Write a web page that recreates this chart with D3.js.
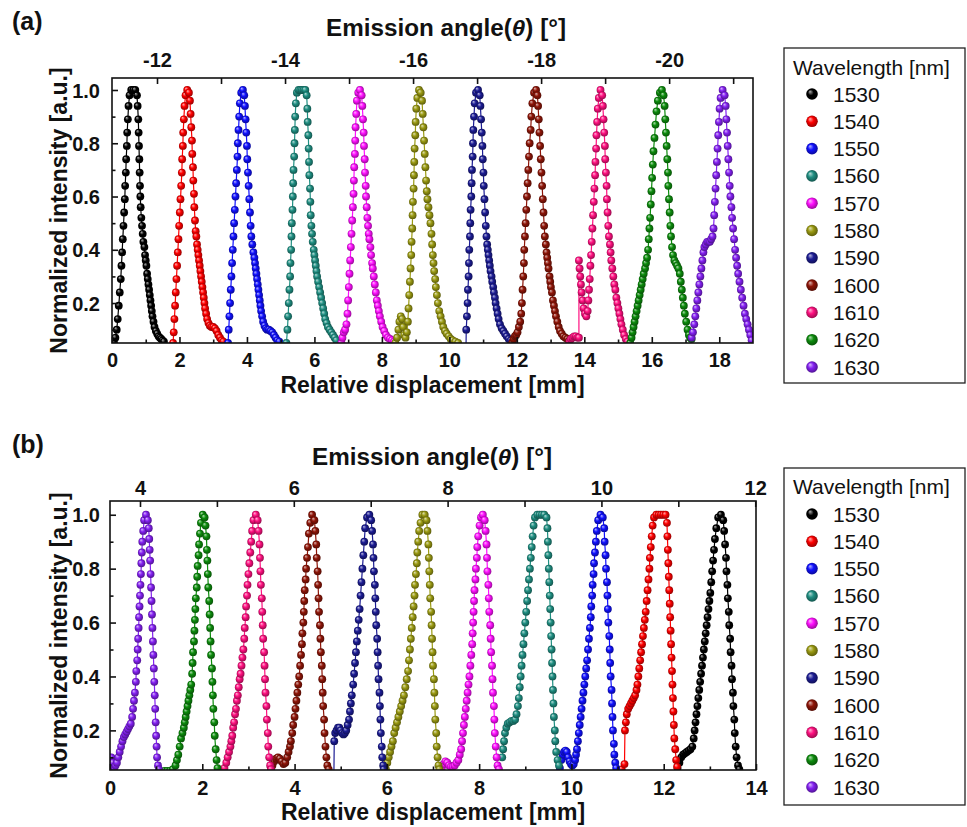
<!DOCTYPE html>
<html><head><meta charset="utf-8">
<script src="https://cdn.jsdelivr.net/npm/d3@7"></script>
<style>body{margin:0;background:#fff}svg{display:block}text{font-family:"Liberation Sans",Arial,sans-serif}</style>
</head><body>
<svg id="c" width="967" height="827"></svg>
<script>
// ---------- data ----------
const wavelengths = [1530,1540,1550,1560,1570,1580,1590,1600,1610,1620,1630];
const colors = ["#000000","#ff0000","#1010ff","#1f8f82","#ff10ff","#9a9a12","#1c1c94","#8e1508","#ff1080","#0c8c0c","#8420f2"];

const xMajorA = [0,2,4,6,8,10,12,14,16,18];
const xMinorA = [1,3,5,7,9,11,13,15,17];
const angTicksA = [-12,-13,-14,-15,-16,-17,-18,-19,-20,-21];
const angLabelsA = [-12,-14,-16,-18,-20];
const xMajorB = [0,2,4,6,8,10,12,14];
const xMinorB = [1,3,5,7,9,11,13];
const angTicksB = [4,5,6,7,8,9,10,11,12];
const angLabelsB = [4,6,8,10,12];
const yMajor = [0.2,0.4,0.6,0.8,1.0];
const yMinor = [0.1,0.3,0.5,0.7,0.9];

// panel (a): [relative displacement mm, normalized intensity]
const a1530 = [[0.06,0.05],[0.1,0.07],[0.14,0.1],[0.17,0.14],[0.2,0.19],[0.23,0.24],[0.26,0.29],[0.28,0.34],[0.3,0.39],[0.32,0.44],[0.34,0.49],[0.36,0.54],[0.38,0.59],[0.39,0.64],[0.41,0.69],[0.42,0.74],[0.44,0.79],[0.45,0.84],[0.47,0.89],[0.49,0.94],[0.52,0.98],[0.57,1.0],[0.63,1.0],[0.69,1.0],[0.74,0.98],[0.76,0.94],[0.78,0.89],[0.79,0.84],[0.8,0.79],[0.81,0.74],[0.82,0.69],[0.83,0.64],[0.84,0.6],[0.85,0.56],[0.87,0.52],[0.89,0.49],[0.91,0.46],[0.93,0.43],[0.96,0.41],[0.98,0.38],[1.0,0.36],[1.02,0.34],[1.04,0.31],[1.06,0.29],[1.08,0.27],[1.1,0.25],[1.12,0.23],[1.14,0.21],[1.16,0.19],[1.18,0.17],[1.2,0.15],[1.23,0.13],[1.26,0.11],[1.3,0.095],[1.34,0.085],[1.38,0.075],[1.42,0.07],[1.46,0.065],[1.5,0.06],[1.54,0.055]];
const a1540 = [[1.81,0.05],[1.83,0.09],[1.85,0.14],[1.87,0.19],[1.89,0.24],[1.91,0.29],[1.93,0.34],[1.95,0.39],[1.97,0.44],[1.99,0.49],[2.01,0.54],[2.03,0.59],[2.05,0.64],[2.07,0.69],[2.08,0.74],[2.1,0.79],[2.11,0.84],[2.13,0.89],[2.15,0.94],[2.18,0.98],[2.23,1.0],[2.28,0.99],[2.31,0.96],[2.33,0.91],[2.35,0.86],[2.37,0.81],[2.38,0.76],[2.4,0.71],[2.41,0.66],[2.43,0.61],[2.44,0.56],[2.46,0.51],[2.48,0.47],[2.5,0.45],[2.52,0.42],[2.54,0.4],[2.56,0.38],[2.58,0.36],[2.6,0.34],[2.62,0.32],[2.64,0.3],[2.66,0.28],[2.68,0.26],[2.7,0.24],[2.72,0.22],[2.74,0.2],[2.76,0.18],[2.79,0.16],[2.82,0.14],[2.86,0.125],[2.9,0.115],[2.95,0.11],[3.0,0.11],[3.05,0.105],[3.1,0.095],[3.15,0.08],[3.2,0.07],[3.25,0.06],[3.3,0.055]];
const a1550 = [[3.44,0.05],[3.46,0.1],[3.48,0.15],[3.5,0.2],[3.52,0.25],[3.54,0.3],[3.56,0.35],[3.58,0.4],[3.6,0.45],[3.62,0.5],[3.64,0.55],[3.66,0.6],[3.68,0.65],[3.7,0.7],[3.72,0.75],[3.73,0.8],[3.75,0.85],[3.77,0.9],[3.79,0.95],[3.83,0.99],[3.88,1.0],[3.92,0.98],[3.94,0.94],[3.96,0.89],[3.98,0.84],[4.0,0.79],[4.01,0.74],[4.03,0.69],[4.05,0.64],[4.07,0.59],[4.09,0.54],[4.11,0.49],[4.13,0.45],[4.16,0.42],[4.19,0.39],[4.22,0.37],[4.24,0.35],[4.26,0.33],[4.28,0.31],[4.3,0.29],[4.32,0.27],[4.34,0.25],[4.36,0.23],[4.38,0.21],[4.4,0.19],[4.42,0.17],[4.45,0.15],[4.48,0.13],[4.52,0.115],[4.56,0.105],[4.6,0.1],[4.65,0.1],[4.7,0.095],[4.75,0.09],[4.8,0.08],[4.85,0.07],[4.9,0.06],[4.96,0.055]];
const a1560 = [[5.17,0.05],[5.2,0.1],[5.22,0.15],[5.24,0.2],[5.26,0.25],[5.28,0.3],[5.29,0.35],[5.31,0.4],[5.32,0.45],[5.33,0.5],[5.35,0.55],[5.36,0.6],[5.37,0.65],[5.38,0.7],[5.4,0.75],[5.41,0.8],[5.42,0.85],[5.43,0.9],[5.45,0.95],[5.48,0.99],[5.53,1.0],[5.58,1.0],[5.63,1.0],[5.68,1.0],[5.73,1.0],[5.77,0.98],[5.79,0.93],[5.8,0.88],[5.82,0.83],[5.83,0.78],[5.84,0.73],[5.85,0.68],[5.87,0.63],[5.88,0.58],[5.89,0.53],[5.91,0.49],[5.93,0.46],[5.95,0.43],[5.98,0.4],[6.0,0.38],[6.02,0.36],[6.04,0.34],[6.06,0.32],[6.08,0.3],[6.11,0.28],[6.14,0.26],[6.17,0.24],[6.2,0.22],[6.23,0.2],[6.26,0.18],[6.29,0.16],[6.32,0.14],[6.36,0.125],[6.4,0.11],[6.45,0.1],[6.5,0.09],[6.55,0.08],[6.6,0.07],[6.65,0.06]];
const a1570 = [[6.8,0.05],[6.83,0.07],[6.87,0.09],[6.91,0.1],[6.95,0.12],[6.98,0.16],[7.0,0.21],[7.02,0.26],[7.04,0.31],[7.06,0.36],[7.08,0.41],[7.1,0.46],[7.12,0.51],[7.14,0.56],[7.16,0.61],[7.17,0.66],[7.18,0.71],[7.2,0.76],[7.21,0.81],[7.22,0.86],[7.24,0.91],[7.26,0.96],[7.3,0.99],[7.35,1.0],[7.4,0.98],[7.42,0.94],[7.44,0.89],[7.46,0.84],[7.47,0.79],[7.49,0.74],[7.5,0.69],[7.52,0.64],[7.53,0.6],[7.55,0.56],[7.57,0.52],[7.59,0.49],[7.61,0.46],[7.63,0.44],[7.66,0.41],[7.68,0.38],[7.71,0.35],[7.73,0.33],[7.76,0.3],[7.79,0.27],[7.82,0.24],[7.85,0.21],[7.88,0.19],[7.91,0.17],[7.94,0.15],[7.98,0.13],[8.02,0.11],[8.07,0.095],[8.12,0.08],[8.18,0.07],[8.24,0.065],[8.3,0.06],[8.36,0.055]];
const a1580 = [[8.4,0.05],[8.45,0.07],[8.49,0.1],[8.52,0.13],[8.56,0.15],[8.6,0.14],[8.63,0.11],[8.66,0.08],[8.7,0.07],[8.74,0.09],[8.77,0.13],[8.79,0.18],[8.81,0.23],[8.83,0.28],[8.85,0.33],[8.87,0.38],[8.88,0.43],[8.9,0.48],[8.91,0.53],[8.92,0.58],[8.94,0.63],[8.95,0.68],[8.96,0.73],[8.97,0.78],[8.99,0.83],[9.0,0.88],[9.02,0.93],[9.05,0.97],[9.1,1.0],[9.15,0.99],[9.19,0.96],[9.21,0.91],[9.23,0.86],[9.25,0.81],[9.27,0.76],[9.29,0.71],[9.31,0.66],[9.33,0.62],[9.35,0.59],[9.38,0.56],[9.41,0.53],[9.44,0.5],[9.47,0.46],[9.49,0.42],[9.51,0.38],[9.53,0.35],[9.55,0.32],[9.58,0.29],[9.6,0.26],[9.63,0.23],[9.66,0.2],[9.7,0.17],[9.74,0.15],[9.78,0.13],[9.82,0.11],[9.87,0.095],[9.92,0.085],[9.98,0.075],[10.04,0.065],[10.1,0.06],[10.18,0.055],[10.26,0.05]];
const a1590 = [[10.49,0.0],[10.5,0.1],[10.52,0.15],[10.54,0.2],[10.55,0.25],[10.57,0.3],[10.58,0.35],[10.59,0.4],[10.61,0.45],[10.62,0.5],[10.63,0.55],[10.65,0.6],[10.66,0.65],[10.67,0.7],[10.69,0.75],[10.7,0.8],[10.71,0.85],[10.73,0.9],[10.75,0.95],[10.79,0.99],[10.85,1.0],[10.9,0.98],[10.92,0.94],[10.94,0.89],[10.96,0.84],[10.98,0.79],[10.99,0.74],[11.01,0.69],[11.02,0.64],[11.04,0.59],[11.06,0.54],[11.08,0.49],[11.1,0.45],[11.12,0.42],[11.14,0.4],[11.16,0.38],[11.18,0.36],[11.2,0.34],[11.22,0.32],[11.25,0.3],[11.27,0.28],[11.3,0.26],[11.32,0.24],[11.35,0.22],[11.37,0.2],[11.4,0.18],[11.43,0.16],[11.46,0.14],[11.5,0.12],[11.55,0.105],[11.6,0.095],[11.65,0.085],[11.7,0.075],[11.76,0.065],[11.82,0.06],[11.88,0.055]];
const a1600 = [[11.86,0.05],[11.9,0.065],[11.94,0.075],[11.98,0.08],[12.02,0.09],[12.06,0.11],[12.1,0.13],[12.13,0.16],[12.15,0.2],[12.17,0.25],[12.19,0.3],[12.21,0.35],[12.22,0.4],[12.24,0.45],[12.26,0.5],[12.28,0.55],[12.3,0.6],[12.32,0.65],[12.34,0.7],[12.36,0.75],[12.38,0.8],[12.41,0.85],[12.43,0.9],[12.46,0.95],[12.51,0.99],[12.57,1.0],[12.61,0.98],[12.63,0.94],[12.65,0.89],[12.67,0.84],[12.69,0.79],[12.71,0.74],[12.73,0.69],[12.75,0.64],[12.77,0.59],[12.79,0.54],[12.81,0.49],[12.83,0.45],[12.86,0.42],[12.88,0.39],[12.9,0.37],[12.92,0.35],[12.94,0.33],[12.97,0.3],[12.99,0.28],[13.01,0.26],[13.04,0.24],[13.07,0.21],[13.1,0.19],[13.13,0.17],[13.16,0.15],[13.2,0.13],[13.24,0.11],[13.28,0.095],[13.33,0.085],[13.38,0.075],[13.44,0.07],[13.5,0.065],[13.56,0.06]];
const a1610 = [[13.56,0.055],[13.6,0.065],[13.65,0.07],[13.7,0.075],[13.75,0.075],[13.8,0.07],[13.84,0.07],[13.84,0.36],[13.86,0.33],[13.88,0.3],[13.9,0.27],[13.92,0.24],[13.95,0.21],[13.98,0.18],[14.02,0.16],[14.06,0.15],[14.1,0.17],[14.12,0.21],[14.14,0.25],[14.16,0.29],[14.18,0.34],[14.2,0.38],[14.22,0.43],[14.24,0.48],[14.26,0.53],[14.28,0.58],[14.3,0.63],[14.32,0.68],[14.33,0.73],[14.35,0.78],[14.36,0.83],[14.38,0.88],[14.4,0.93],[14.43,0.97],[14.48,1.0],[14.53,0.98],[14.55,0.94],[14.57,0.89],[14.59,0.84],[14.61,0.79],[14.62,0.74],[14.64,0.69],[14.66,0.64],[14.67,0.59],[14.69,0.54],[14.71,0.49],[14.73,0.45],[14.76,0.42],[14.78,0.39],[14.8,0.36],[14.83,0.33],[14.86,0.3],[14.89,0.27],[14.92,0.25],[14.95,0.22],[14.98,0.2],[15.01,0.18],[15.04,0.16],[15.07,0.14],[15.1,0.12],[15.14,0.1],[15.18,0.08],[15.23,0.065],[15.28,0.055]];
const a1620 = [[15.36,0.05],[15.4,0.07],[15.43,0.09],[15.46,0.11],[15.49,0.13],[15.52,0.15],[15.55,0.17],[15.58,0.19],[15.61,0.21],[15.64,0.23],[15.67,0.25],[15.7,0.27],[15.73,0.29],[15.76,0.31],[15.8,0.33],[15.83,0.35],[15.86,0.37],[15.89,0.4],[15.91,0.44],[15.93,0.48],[15.95,0.52],[15.97,0.57],[15.99,0.62],[16.01,0.67],[16.03,0.72],[16.05,0.77],[16.08,0.82],[16.11,0.87],[16.14,0.92],[16.18,0.96],[16.24,0.99],[16.3,1.0],[16.35,0.98],[16.38,0.94],[16.4,0.89],[16.42,0.84],[16.44,0.79],[16.46,0.74],[16.48,0.69],[16.49,0.64],[16.51,0.59],[16.53,0.54],[16.55,0.49],[16.57,0.45],[16.6,0.41],[16.63,0.38],[16.67,0.36],[16.71,0.35],[16.75,0.34],[16.79,0.33],[16.83,0.31],[16.86,0.28],[16.89,0.25],[16.92,0.22],[16.95,0.19],[16.98,0.16],[17.02,0.13],[17.06,0.1],[17.1,0.08],[17.14,0.07],[17.18,0.065]];
const a1630 = [[17.18,0.07],[17.22,0.09],[17.26,0.12],[17.29,0.15],[17.32,0.18],[17.35,0.21],[17.38,0.24],[17.41,0.27],[17.44,0.3],[17.47,0.33],[17.5,0.36],[17.53,0.39],[17.56,0.41],[17.6,0.42],[17.64,0.43],[17.68,0.43],[17.72,0.43],[17.76,0.44],[17.8,0.45],[17.83,0.48],[17.85,0.53],[17.87,0.58],[17.89,0.63],[17.91,0.68],[17.93,0.73],[17.95,0.78],[17.97,0.83],[17.99,0.88],[18.01,0.93],[18.04,0.97],[18.1,1.0],[18.16,0.98],[18.19,0.94],[18.21,0.89],[18.23,0.84],[18.25,0.79],[18.27,0.74],[18.29,0.69],[18.31,0.64],[18.33,0.6],[18.36,0.56],[18.38,0.52],[18.41,0.48],[18.44,0.44],[18.47,0.4],[18.5,0.37],[18.53,0.34],[18.56,0.31],[18.6,0.28],[18.64,0.25],[18.68,0.22],[18.72,0.19],[18.76,0.16],[18.8,0.14],[18.84,0.12],[18.88,0.1],[18.92,0.08],[18.96,0.06]];

// panel (b)
const b1530 = [[12.3,0.06],[12.34,0.08],[12.38,0.1],[12.42,0.11],[12.46,0.115],[12.5,0.12],[12.54,0.125],[12.58,0.13],[12.62,0.14],[12.65,0.17],[12.67,0.2],[12.69,0.23],[12.71,0.26],[12.73,0.29],[12.75,0.32],[12.77,0.35],[12.79,0.38],[12.81,0.41],[12.83,0.44],[12.85,0.47],[12.87,0.5],[12.89,0.53],[12.91,0.56],[12.93,0.59],[12.95,0.62],[12.97,0.65],[12.99,0.68],[13.01,0.71],[13.03,0.75],[13.05,0.79],[13.07,0.83],[13.09,0.87],[13.11,0.91],[13.14,0.95],[13.18,0.99],[13.24,1.0],[13.29,0.98],[13.31,0.94],[13.33,0.89],[13.35,0.84],[13.36,0.79],[13.38,0.74],[13.39,0.69],[13.41,0.64],[13.42,0.59],[13.44,0.54],[13.45,0.49],[13.47,0.44],[13.48,0.39],[13.5,0.34],[13.51,0.29],[13.53,0.24],[13.54,0.19],[13.56,0.14],[13.58,0.1],[13.61,0.07],[13.64,0.055]];
const b1540 = [[11.09,0.055],[11.15,0.075],[11.16,0.2],[11.18,0.23],[11.2,0.26],[11.23,0.28],[11.26,0.29],[11.29,0.3],[11.32,0.31],[11.35,0.32],[11.38,0.33],[11.41,0.35],[11.43,0.37],[11.45,0.4],[11.47,0.43],[11.49,0.46],[11.51,0.49],[11.53,0.52],[11.55,0.55],[11.57,0.58],[11.59,0.61],[11.61,0.64],[11.63,0.68],[11.65,0.72],[11.67,0.76],[11.69,0.8],[11.7,0.84],[11.72,0.88],[11.74,0.92],[11.76,0.96],[11.79,0.99],[11.84,1.0],[11.89,1.0],[11.94,1.0],[11.99,1.0],[12.04,1.0],[12.07,0.97],[12.08,0.92],[12.09,0.87],[12.1,0.82],[12.11,0.77],[12.12,0.72],[12.13,0.67],[12.14,0.62],[12.15,0.57],[12.16,0.52],[12.17,0.47],[12.18,0.42],[12.19,0.37],[12.2,0.32],[12.21,0.27],[12.22,0.22],[12.23,0.17],[12.25,0.13],[12.27,0.09],[12.29,0.065]];
const b1550 = [[9.75,0.06],[9.78,0.09],[9.81,0.11],[9.84,0.12],[9.87,0.125],[9.9,0.12],[9.93,0.1],[9.96,0.085],[9.99,0.075],[10.02,0.07],[10.05,0.075],[10.08,0.09],[10.1,0.11],[10.12,0.13],[10.14,0.16],[10.16,0.19],[10.18,0.22],[10.2,0.25],[10.22,0.28],[10.24,0.31],[10.26,0.34],[10.28,0.37],[10.3,0.4],[10.32,0.43],[10.34,0.46],[10.36,0.5],[10.38,0.54],[10.4,0.58],[10.42,0.62],[10.43,0.66],[10.45,0.7],[10.46,0.74],[10.48,0.78],[10.49,0.82],[10.51,0.86],[10.53,0.9],[10.55,0.94],[10.58,0.98],[10.63,1.0],[10.68,0.99],[10.71,0.95],[10.72,0.9],[10.74,0.85],[10.75,0.8],[10.77,0.75],[10.78,0.7],[10.79,0.65],[10.8,0.6],[10.82,0.55],[10.83,0.5],[10.84,0.45],[10.85,0.4],[10.87,0.35],[10.88,0.3],[10.89,0.25],[10.9,0.2],[10.92,0.15],[10.93,0.11],[10.95,0.08],[10.97,0.06]];
const b1560 = [[8.5,0.1],[8.52,0.13],[8.54,0.16],[8.56,0.19],[8.59,0.21],[8.62,0.225],[8.66,0.23],[8.7,0.235],[8.74,0.235],[8.78,0.24],[8.81,0.26],[8.84,0.29],[8.86,0.32],[8.88,0.36],[8.9,0.4],[8.92,0.44],[8.94,0.48],[8.96,0.52],[8.98,0.56],[9.0,0.6],[9.02,0.64],[9.04,0.68],[9.06,0.72],[9.08,0.76],[9.1,0.8],[9.12,0.84],[9.14,0.88],[9.16,0.92],[9.18,0.96],[9.21,0.99],[9.26,1.0],[9.31,1.0],[9.36,1.0],[9.41,1.0],[9.46,0.99],[9.48,0.95],[9.49,0.9],[9.5,0.85],[9.51,0.8],[9.52,0.75],[9.53,0.7],[9.54,0.65],[9.55,0.6],[9.56,0.55],[9.57,0.5],[9.58,0.45],[9.59,0.4],[9.6,0.35],[9.61,0.3],[9.62,0.25],[9.64,0.2],[9.65,0.16],[9.67,0.12],[9.7,0.09],[9.73,0.07]];
const b1570 = [[7.19,0.06],[7.23,0.075],[7.27,0.085],[7.31,0.08],[7.35,0.07],[7.39,0.065],[7.43,0.065],[7.47,0.07],[7.51,0.08],[7.55,0.09],[7.58,0.11],[7.61,0.13],[7.63,0.16],[7.65,0.19],[7.67,0.22],[7.69,0.25],[7.71,0.28],[7.73,0.31],[7.75,0.34],[7.77,0.37],[7.79,0.4],[7.81,0.44],[7.83,0.48],[7.85,0.52],[7.86,0.56],[7.87,0.6],[7.88,0.64],[7.89,0.68],[7.9,0.72],[7.92,0.76],[7.93,0.8],[7.95,0.84],[7.96,0.88],[7.98,0.92],[8.01,0.96],[8.04,0.99],[8.08,1.0],[8.12,0.98],[8.14,0.94],[8.16,0.89],[8.17,0.84],[8.18,0.79],[8.2,0.74],[8.21,0.69],[8.22,0.64],[8.24,0.59],[8.25,0.54],[8.26,0.49],[8.28,0.44],[8.29,0.39],[8.3,0.34],[8.32,0.29],[8.33,0.24],[8.34,0.19],[8.36,0.14],[8.38,0.1],[8.4,0.07],[8.43,0.055]];
const b1580 = [[5.98,0.055],[6.01,0.08],[6.04,0.1],[6.07,0.12],[6.1,0.14],[6.13,0.16],[6.16,0.19],[6.19,0.21],[6.22,0.23],[6.25,0.25],[6.28,0.27],[6.31,0.29],[6.34,0.31],[6.37,0.33],[6.4,0.36],[6.43,0.39],[6.46,0.42],[6.48,0.46],[6.5,0.5],[6.52,0.54],[6.54,0.58],[6.56,0.62],[6.58,0.66],[6.6,0.7],[6.61,0.74],[6.63,0.78],[6.65,0.82],[6.66,0.86],[6.68,0.9],[6.7,0.94],[6.73,0.97],[6.77,1.0],[6.82,1.0],[6.86,0.98],[6.88,0.94],[6.9,0.89],[6.91,0.84],[6.92,0.79],[6.93,0.74],[6.94,0.69],[6.96,0.64],[6.97,0.59],[6.98,0.54],[6.99,0.49],[7.0,0.44],[7.02,0.39],[7.03,0.34],[7.04,0.29],[7.05,0.24],[7.07,0.19],[7.08,0.14],[7.1,0.1],[7.12,0.07],[7.14,0.055]];
const b1590 = [[4.85,0.0],[4.86,0.16],[4.88,0.19],[4.91,0.2],[4.94,0.21],[4.97,0.21],[5.0,0.2],[5.03,0.19],[5.06,0.185],[5.09,0.19],[5.12,0.2],[5.15,0.22],[5.18,0.24],[5.2,0.27],[5.22,0.3],[5.24,0.33],[5.27,0.37],[5.29,0.41],[5.31,0.45],[5.33,0.49],[5.35,0.53],[5.37,0.57],[5.39,0.61],[5.41,0.65],[5.43,0.7],[5.45,0.75],[5.47,0.8],[5.49,0.85],[5.51,0.9],[5.53,0.95],[5.57,0.99],[5.62,1.0],[5.66,0.98],[5.68,0.94],[5.7,0.89],[5.71,0.84],[5.72,0.79],[5.74,0.74],[5.75,0.69],[5.76,0.64],[5.77,0.59],[5.79,0.54],[5.8,0.49],[5.81,0.44],[5.82,0.39],[5.84,0.34],[5.85,0.29],[5.86,0.24],[5.87,0.19],[5.89,0.14],[5.9,0.1],[5.92,0.07],[5.93,0.055]];
const b1600 = [[3.49,0.055],[3.52,0.07],[3.56,0.085],[3.6,0.095],[3.64,0.1],[3.68,0.095],[3.72,0.085],[3.76,0.075],[3.8,0.08],[3.84,0.1],[3.87,0.12],[3.9,0.14],[3.92,0.16],[3.95,0.19],[3.97,0.22],[4.0,0.25],[4.02,0.28],[4.04,0.31],[4.06,0.34],[4.08,0.37],[4.1,0.4],[4.12,0.44],[4.14,0.48],[4.16,0.52],[4.17,0.56],[4.19,0.6],[4.2,0.64],[4.21,0.68],[4.22,0.72],[4.24,0.76],[4.25,0.8],[4.27,0.84],[4.29,0.88],[4.31,0.93],[4.34,0.97],[4.38,1.0],[4.43,0.98],[4.45,0.94],[4.47,0.89],[4.48,0.84],[4.5,0.79],[4.51,0.74],[4.52,0.69],[4.53,0.64],[4.55,0.59],[4.56,0.54],[4.57,0.49],[4.59,0.44],[4.6,0.39],[4.61,0.34],[4.62,0.29],[4.64,0.24],[4.65,0.19],[4.67,0.14],[4.69,0.1],[4.71,0.07],[4.74,0.055]];
const b1610 = [[2.44,0.05],[2.48,0.06],[2.52,0.08],[2.55,0.1],[2.58,0.12],[2.61,0.14],[2.63,0.16],[2.65,0.18],[2.67,0.21],[2.69,0.23],[2.71,0.26],[2.73,0.28],[2.75,0.31],[2.77,0.33],[2.79,0.36],[2.81,0.39],[2.83,0.41],[2.85,0.44],[2.87,0.47],[2.89,0.5],[2.91,0.54],[2.92,0.58],[2.94,0.62],[2.95,0.66],[2.97,0.7],[2.98,0.74],[3.0,0.78],[3.02,0.82],[3.04,0.86],[3.06,0.9],[3.08,0.94],[3.11,0.98],[3.16,1.0],[3.2,0.98],[3.22,0.94],[3.24,0.89],[3.25,0.84],[3.26,0.79],[3.27,0.74],[3.29,0.69],[3.3,0.64],[3.31,0.59],[3.32,0.54],[3.34,0.49],[3.35,0.44],[3.36,0.39],[3.37,0.34],[3.39,0.29],[3.4,0.24],[3.42,0.19],[3.43,0.14],[3.45,0.1],[3.47,0.07],[3.49,0.055]];
const b1620 = [[1.18,0.05],[1.24,0.05],[1.3,0.05],[1.36,0.055],[1.42,0.07],[1.45,0.09],[1.48,0.11],[1.51,0.14],[1.54,0.17],[1.57,0.19],[1.6,0.21],[1.62,0.23],[1.64,0.25],[1.66,0.27],[1.68,0.29],[1.7,0.31],[1.72,0.33],[1.74,0.35],[1.76,0.37],[1.78,0.41],[1.79,0.45],[1.8,0.49],[1.82,0.53],[1.83,0.57],[1.84,0.61],[1.85,0.65],[1.86,0.69],[1.88,0.73],[1.89,0.77],[1.9,0.81],[1.92,0.85],[1.93,0.89],[1.95,0.93],[1.97,0.97],[2.01,1.0],[2.05,0.99],[2.07,0.96],[2.09,0.92],[2.1,0.87],[2.11,0.83],[2.12,0.78],[2.13,0.73],[2.15,0.68],[2.16,0.63],[2.17,0.58],[2.18,0.53],[2.19,0.48],[2.21,0.43],[2.22,0.38],[2.23,0.33],[2.24,0.28],[2.26,0.23],[2.27,0.18],[2.29,0.13],[2.31,0.09],[2.33,0.06]];
const b1630 = [[0.0,0.08],[0.03,0.1],[0.06,0.08],[0.09,0.06],[0.12,0.07],[0.15,0.08],[0.18,0.1],[0.21,0.12],[0.24,0.14],[0.27,0.16],[0.3,0.175],[0.33,0.185],[0.36,0.195],[0.39,0.205],[0.42,0.215],[0.45,0.225],[0.48,0.25],[0.5,0.28],[0.52,0.31],[0.54,0.34],[0.56,0.38],[0.57,0.42],[0.59,0.46],[0.6,0.5],[0.61,0.54],[0.62,0.58],[0.63,0.62],[0.64,0.66],[0.65,0.7],[0.66,0.74],[0.67,0.78],[0.68,0.82],[0.69,0.86],[0.7,0.9],[0.72,0.94],[0.74,0.98],[0.78,1.0],[0.82,0.98],[0.84,0.95],[0.85,0.91],[0.86,0.87],[0.87,0.83],[0.88,0.78],[0.89,0.73],[0.9,0.68],[0.91,0.63],[0.92,0.58],[0.93,0.53],[0.94,0.48],[0.95,0.43],[0.96,0.38],[0.97,0.33],[0.98,0.28],[0.99,0.23],[1.0,0.18],[1.01,0.14],[1.02,0.1],[1.04,0.07],[1.06,0.055]];

// ---------- drawing ----------
const svg = d3.select("#c");
const defs = svg.append("defs");
colors.forEach((c,i)=>{
  const g = defs.append("radialGradient").attr("id","sph"+i)
    .attr("cx","50%").attr("cy","50%").attr("r","55%").attr("fx","32%").attr("fy","28%");
  g.append("stop").attr("offset","0%").attr("stop-color", d3.interpolateRgb(c,"#ffffff")(0.7));
  g.append("stop").attr("offset","45%").attr("stop-color", c);
  g.append("stop").attr("offset","100%").attr("stop-color", d3.interpolateRgb(c,"#000000")(0.45));
});

const FONT = "'Liberation Sans', Arial, sans-serif";

function styleText(sel, size, weight){
  sel.attr("font-family",FONT).attr("font-size",size).attr("font-weight",weight).attr("fill","#111");
}

function panel(p){
  const x = d3.scaleLinear().domain(p.xDom).range([p.left,p.right]);
  const y = d3.scaleLinear().domain(p.yDom).range([p.bottom,p.top]);
  const ang = d3.scaleLinear().domain(p.angDom).range([p.left,p.right]);
  const g = svg.append("g");
  defs.append("clipPath").attr("id","clip"+p.id).append("rect")
    .attr("x",p.left).attr("y",p.top).attr("width",p.right-p.left).attr("height",p.bottom-p.top);
  const plot = g.append("g").attr("clip-path",`url(#clip${p.id})`);
  const line = d3.line().x(d=>x(d[0])).y(d=>y(d[1]));
  p.series.forEach((s,i)=>{
    plot.append("path").attr("d",line(s)).attr("fill","none").attr("stroke",colors[i]).attr("stroke-width",1.2);
    plot.append("g").selectAll("circle").data(s).join("circle")
      .attr("cx",d=>x(d[0])).attr("cy",d=>y(d[1])).attr("r",3.9).attr("fill",`url(#sph${i})`);
  });

  // frame
  g.append("rect").attr("x",p.left).attr("y",p.top).attr("width",p.right-p.left).attr("height",p.bottom-p.top)
    .attr("fill","none").attr("stroke","#111").attr("stroke-width",1.6);

  const tickStyle = sel => { sel.select(".domain").remove(); sel.selectAll("line").attr("stroke","#111").attr("stroke-width",1.6); };

  // bottom axis
  const bx = g.append("g").attr("transform",`translate(0,${p.bottom})`)
    .call(d3.axisBottom(x).tickValues(p.xMajor).tickSize(-6).tickFormat(d=>String(d)));
  tickStyle(bx);
  styleText(bx.selectAll("text").attr("y",p.bLab).attr("dy",null), 20, "bold");
  const bxm = g.append("g").attr("transform",`translate(0,${p.bottom})`)
    .call(d3.axisBottom(x).tickValues(p.xMinor).tickSize(-3.5).tickFormat(""));
  tickStyle(bxm);

  // top axis (emission angle)
  const tx = g.append("g").attr("transform",`translate(0,${p.top})`)
    .call(d3.axisTop(ang).tickValues(p.angTicks).tickSize(-6).tickFormat(d=>p.angLabels.includes(d)?String(d):""));
  tickStyle(tx);
  styleText(tx.selectAll("text").attr("y",p.tLab).attr("dy",null), 20, "bold");

  // left axis
  const ly = g.append("g").attr("transform",`translate(${p.left},0)`)
    .call(d3.axisLeft(y).tickValues(yMajor).tickSize(-6).tickFormat(d3.format(".1f")));
  tickStyle(ly);
  styleText(ly.selectAll("text").attr("x",100-p.left).attr("dy","0.36em"), 20, "bold");
  const lym = g.append("g").attr("transform",`translate(${p.left},0)`)
    .call(d3.axisLeft(y).tickValues(yMinor).tickSize(-3.5).tickFormat(""));
  tickStyle(lym);

  // titles
  const t1 = g.append("text").attr("x",p.topTitleX).attr("y",p.topTitleY).attr("text-anchor","middle")
    .attr("textLength",240).attr("lengthAdjust","spacingAndGlyphs");
  styleText(t1, 23, "bold");
  t1.append("tspan").text("Emission angle(");
  t1.append("tspan").attr("font-style","italic").text("θ");
  t1.append("tspan").text(") [°]");
  styleText(g.append("text").attr("x",(p.left+p.right)/2).attr("y",p.botTitleY).attr("text-anchor","middle")
    .text("Relative displacement [mm]"), 23, "bold");
  styleText(g.append("text").attr("transform",`translate(67,${(p.top+p.bottom)/2}) rotate(-90)`).attr("text-anchor","middle")
    .text("Normalized intensity [a.u.]"), 23, "bold");
  styleText(g.append("text").attr("x",12).attr("y",p.labelY).text(p.label), 25, "bold");
}

function legend(l){
  const g = svg.append("g");
  g.append("rect").attr("x",784).attr("y",l.top).attr("width",181).attr("height",l.bottom-l.top)
    .attr("fill","#fff").attr("stroke","#222").attr("stroke-width",1.3);
  styleText(g.append("text").attr("x",793).attr("y",l.titleY).text("Wavelength [nm]"), 21, "normal");
  const py = d3.scalePoint().domain(wavelengths).range([l.first,l.last]);
  wavelengths.forEach((w,i)=>{
    g.append("circle").attr("cx",812).attr("cy",py(w)).attr("r",5.8).attr("fill",`url(#sph${i})`);
    styleText(g.append("text").attr("x",833).attr("y",py(w)).attr("dy","0.36em").text(String(w)), 21, "normal");
  });
}

panel({id:"a", label:"(a)", labelY:30, left:112, right:753, top:78, bottom:343,
  xDom:[0,19], yDom:[0.05,1.045], angDom:[-11.297,-21.31],
  xMajor:xMajorA, xMinor:xMinorA, angTicks:angTicksA, angLabels:angLabelsA,
  bLab:24, tLab:-11, topTitleX:446, topTitleY:36, botTitleY:393,
  series:[a1530,a1540,a1550,a1560,a1570,a1580,a1590,a1600,a1610,a1620,a1630]});
panel({id:"b", label:"(b)", labelY:453, left:110, right:756, top:501, bottom:770,
  xDom:[0,14], yDom:[0.053,1.051], angDom:[3.61,12.01],
  xMajor:xMajorB, xMinor:xMinorB, angTicks:angTicksB, angLabels:angLabelsB,
  bLab:25, tLab:-6, topTitleX:432, topTitleY:465, botTitleY:820,
  series:[b1530,b1540,b1550,b1560,b1570,b1580,b1590,b1600,b1610,b1620,b1630]});
legend({top:48, bottom:383, titleY:75, first:94, last:367});
legend({top:468, bottom:805, titleY:494, first:514, last:787});
</script>
</body></html>
